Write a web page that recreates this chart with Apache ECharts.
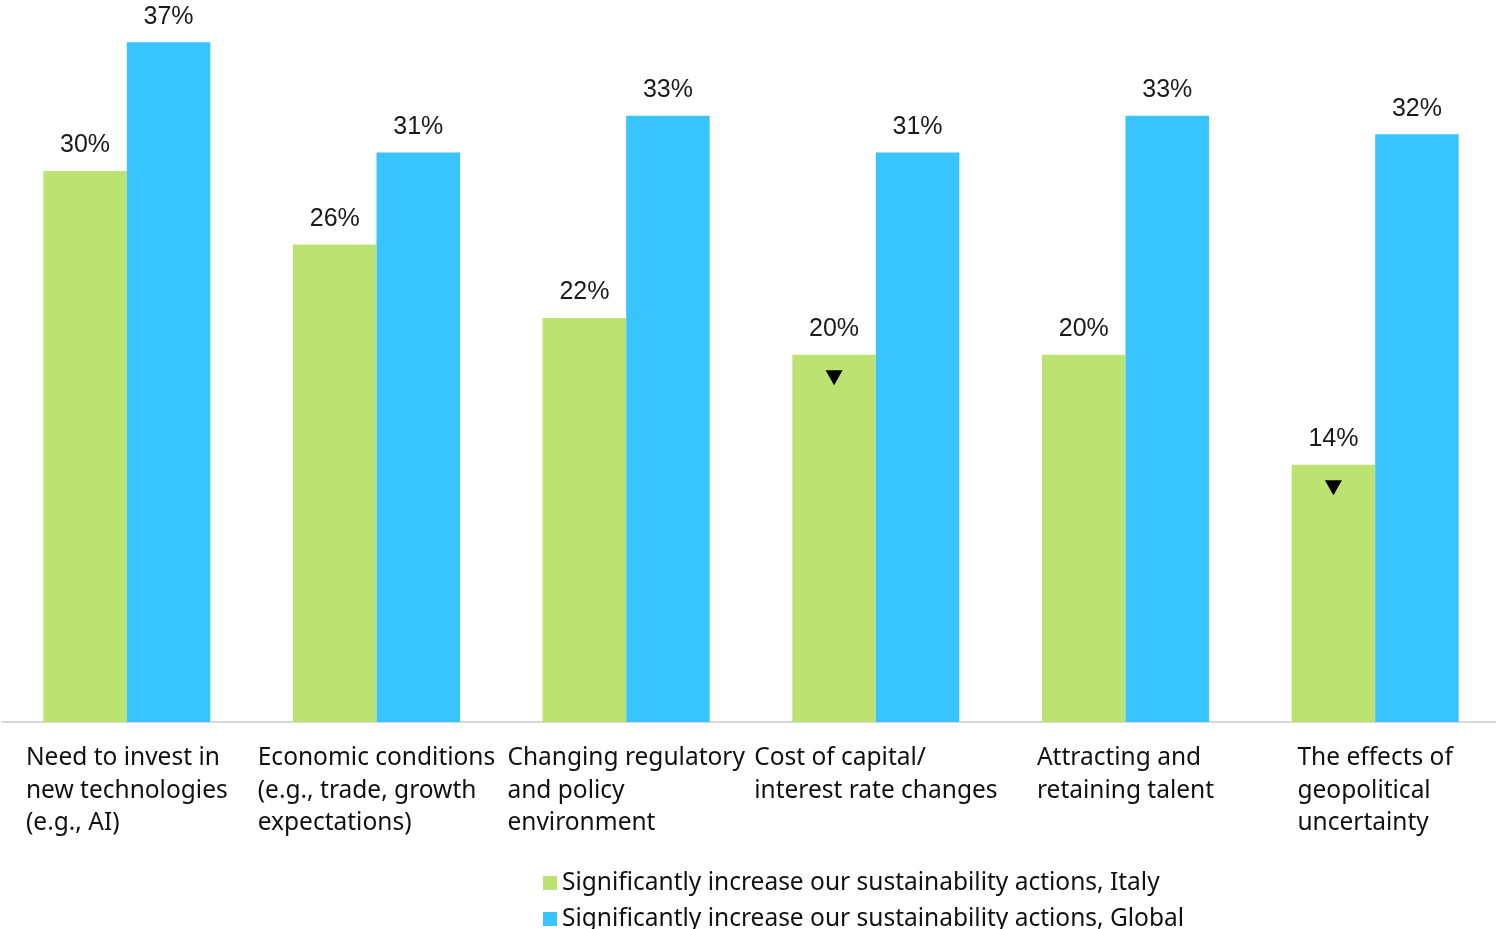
<!DOCTYPE html>
<html>
<head>
<meta charset="utf-8">
<script src="https://cdn.jsdelivr.net/npm/echarts@6/dist/echarts.min.js"></script>
<style>html,body{margin:0;padding:0;background:#fff}#c{width:1496px;height:929px}</style>
</head>
<body>
<div id="c"></div>
<script>
const categories = [
  'Need to invest in\nnew technologies\n(e.g., AI)',
  'Economic conditions\n(e.g., trade, growth\nexpectations)',
  'Changing regulatory\nand policy\nenvironment',
  'Cost of capital/\ninterest rate changes',
  'Attracting and\nretaining talent',
  'The effects of\ngeopolitical\nuncertainty'
];
const italy = [30, 26, 22, 20, 20, 14];
const globalVals = [37, 31, 33, 31, 33, 32];
const italyDown = [false, false, false, true, false, true];
const seriesNames = [
  'Significantly increase our sustainability actions, Italy',
  'Significantly increase our sustainability actions, Global'
];

const axisFont = 'Noto Sans';
const chart = echarts.init(document.getElementById('c'), null, {renderer: 'canvas'});
const downMarks = [];
italyDown.forEach((d, i) => { if (d) downMarks.push({coord: [i, italy[i]]}); });

chart.setOption({
  animation: false,
  grid: {left: 2, width: 1498, top: 24, bottom: 207, containLabel: false, outerBoundsMode: 'none'},
  legend: {
    orient: 'vertical', left: 538, top: 865, height: 200, itemWidth: 14, itemHeight: 14, itemGap: 10,
    icon: 'rect',
    textStyle: {fontFamily: axisFont, fontSize: 24.5, color: '#111', lineHeight: 26},
    data: seriesNames
  },
  xAxis: {
    type: 'category', data: categories,
    axisLine: {lineStyle: {color: '#d9d9d9', width: 2}},
    axisTick: {show: false},
    axisLabel: {
      interval: 0, margin: 20, align: 'center',
      formatter: v => v.split('\n').map(l => '{a|' + l + '}').join('\n'),
      rich: {a: {align: 'left', fontFamily: axisFont, fontSize: 24.5, color: '#111', lineHeight: 32.5}}
    }
  },
  yAxis: {type: 'value', min: 0, max: 38, show: false, splitLine: {show: false}},
  series: [
    {
      name: seriesNames[0], type: 'bar', data: italy, barWidth: 83.5, barGap: '0%',
      itemStyle: {color: '#BCE372'},
      label: {show: true, position: 'top', distance: 13, formatter: '{c}%', fontFamily: 'Liberation Sans', fontSize: 25, color: '#1a1a1a'},
      markPoint: {
        symbol: 'triangle', symbolRotate: 180, symbolSize: [17, 15], symbolOffset: [0, 23],
        itemStyle: {color: '#000'}, label: {show: false}, silent: true,
        data: downMarks
      }
    },
    {
      name: seriesNames[1], type: 'bar', data: globalVals, barWidth: 83.5, barGap: '0%',
      itemStyle: {color: '#38C5FF'},
      label: {show: true, position: 'top', distance: 13, formatter: '{c}%', fontFamily: 'Liberation Sans', fontSize: 25, color: '#1a1a1a'}
    }
  ]
});
</script>
</body>
</html>
